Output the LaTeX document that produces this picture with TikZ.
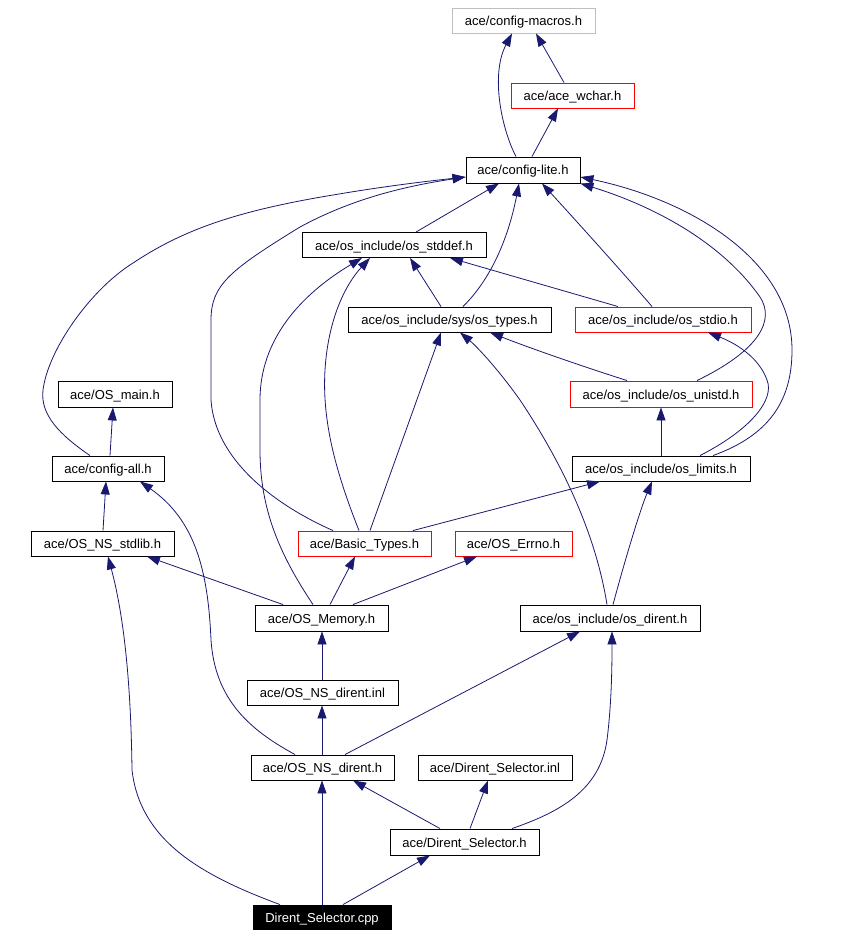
\documentclass[tikz,border=0pt]{standalone}
\usepackage{fontspec}
\setmainfont{Liberation Sans}
\usetikzlibrary{arrows.meta}
\definecolor{edgeblue}{RGB}{25,25,112}
\definecolor{grayframe}{RGB}{191,191,191}
\begin{document}
\begin{tikzpicture}[x=1pt,y=-1pt,
  box/.style={draw=black,line width=0.9pt,minimum height=25pt,inner sep=0pt,text height=13pt,text depth=3pt,font=\fontsize{13}{15}\selectfont,anchor=center},
  redbox/.style={box,draw=red},
  graybox/.style={box,draw=grayframe},
  rootbox/.style={box,fill=black,text=white},
  dep/.style={draw=edgeblue,line width=0.8pt,-{Triangle[length=13pt,width=9pt]}}]
\fill[white] (0,0) rectangle (859,936);
\useasboundingbox (0,0) rectangle (859,936);
% nodes
\node[graybox,minimum width=143pt] (macros) at (523.5,20.5) {ace/config-macros.h};
\node[redbox,minimum width=123pt] (wchar) at (572.5,95.5) {ace/ace\_wchar.h};
\node[box,minimum width=114pt,minimum height=26pt] (lite) at (523,170) {ace/config-lite.h};
\node[box,minimum width=184pt] (stddef) at (394,245) {ace/os\_include/os\_stddef.h};
\node[box,minimum width=203pt] (types) at (449.5,319.5) {ace/os\_include/sys/os\_types.h};
\node[redbox,minimum width=176pt] (stdio) at (663,319.5) {ace/os\_include/os\_stdio.h};
\node[redbox,minimum width=182pt,minimum height=26pt] (unistd) at (661,394) {ace/os\_include/os\_unistd.h};
\node[box,minimum width=178pt] (limits) at (661,468.5) {ace/os\_include/os\_limits.h};
\node[redbox,minimum width=117pt] (errno) at (513.5,543.5) {ace/OS\_Errno.h};
\node[box,minimum width=180pt,minimum height=26pt] (dirent) at (610,618) {ace/os\_include/os\_dirent.h};
\node[box,minimum width=114pt,minimum height=26pt] (osmain) at (115,394) {ace/OS\_main.h};
\node[box,minimum width=112pt] (cfgall) at (108,468.5) {ace/config-all.h};
\node[box,minimum width=143pt] (stdlib) at (102.5,543.5) {ace/OS\_NS\_stdlib.h};
\node[redbox,minimum width=133pt] (basic) at (364.5,543.5) {ace/Basic\_Types.h};
\node[box,minimum width=133pt,minimum height=26pt] (memory) at (321.5,618) {ace/OS\_Memory.h};
\node[box,minimum width=151pt] (nsinl) at (322.5,692.5) {ace/OS\_NS\_dirent.inl};
\node[box,minimum width=143pt] (nsh) at (322.5,767.5) {ace/OS\_NS\_dirent.h};
\node[box,minimum width=154pt] (dsinl) at (495,767.5) {ace/Dirent\_Selector.inl};
\node[box,minimum width=149pt,minimum height=26pt] (dsh) at (464.5,842) {ace/Dirent\_Selector.h};
\node[rootbox,minimum width=138pt,minimum height=24pt] (cpp) at (322,917) {Dirent\_Selector.cpp};
% edges
\draw[dep] (516,0 |- lite.north) .. controls (502,130) and (490,75) .. (512,0 |- macros.south);
\draw[dep] (532,0 |- lite.north) -- (558,0 |- wchar.south);
\draw[dep] (564,0 |- wchar.north) -- (536,0 |- macros.south);
\draw[dep] (416,0 |- stddef.north) -- (499,0 |- lite.south);
\draw[dep] (463,0 |- types.north) .. controls (490,280) and (508,240) .. (519,0 |- lite.south);
\draw[dep] (652,0 |- stdio.north) .. controls (625,275) and (580,225) .. (542,0 |- lite.south);
\draw[dep] (697,0 |- unistd.north) .. controls (760,350) and (775,320) .. (760,297) .. controls (720,240) and (650,205) .. (lite.south east);
\draw[dep] (713,0 |- limits.north) .. controls (770,435) and (792,400) .. (792,350) .. controls (792,260) and (690,200) .. (lite.east |- 0,177);
\draw[dep] (700,0 |- limits.north) .. controls (750,430) and (775,400) .. (767,380) .. controls (760,360) and (740,345) .. (708,0 |- stdio.south);
\draw[dep] (441,0 |- types.north) -- (410,0 |- stddef.south);
\draw[dep] (618,0 |- stdio.north) -- (450,0 |- stddef.south);
\draw[dep] (627,0 |- unistd.north) .. controls (600,372) and (540,352) .. (490,0 |- types.south);
\draw[dep] (limits.north) -- (unistd.south);
\draw[dep] (333,0 |- basic.north) .. controls (275,505) and (215,460) .. (211,400) -- (211,320) .. controls (211,285) and (230,270) .. (300,227) .. controls (350,200) and (400,187) .. (lite.west |- 0,177);
\draw[dep] (90,0 |- cfgall.north) .. controls (60,435) and (40,415) .. (43,390) .. controls (48,350) and (90,290) .. (133,263) .. controls (180,232) and (230,212) .. (333,195) .. controls (380,187) and (420,182) .. (lite.west |- 0,177);
\draw[dep] (359,0 |- basic.north) .. controls (335,470) and (322,420) .. (325,370) .. controls (328,320) and (345,285) .. (370,0 |- stddef.south);
\draw[dep] (370,0 |- basic.north) -- (441,0 |- types.south);
\draw[dep] (313,0 |- memory.north) .. controls (280,555) and (260,510) .. (260,450) -- (260,400) .. controls (260,340) and (300,295) .. (362,0 |- stddef.south);
\draw[dep] (330,0 |- memory.north) -- (355,0 |- basic.south);
\draw[dep] (283,0 |- memory.north) -- (147,0 |- stdlib.south);
\draw[dep] (353,0 |- memory.north) -- (477,0 |- errno.south);
\draw[dep] (110,0 |- cfgall.north) -- (113,0 |- osmain.south);
\draw[dep] (103,0 |- stdlib.north) -- (106,0 |- cfgall.south);
\draw[dep] (607,0 |- dirent.north) .. controls (595,530) and (560,460) .. (520,400) .. controls (495,365) and (475,345) .. (460,0 |- types.south);
\draw[dep] (613,0 |- dirent.north) .. controls (625,560) and (640,510) .. (652,0 |- limits.south);
\draw[dep] (413,0 |- basic.north) -- (600,0 |- limits.south);
\draw[dep] (322,0 |- nsinl.north) -- (322,0 |- memory.south);
\draw[dep] (322,0 |- nsh.north) -- (322,0 |- nsinl.south);
\draw[dep] (295,0 |- nsh.north) .. controls (250,730) and (215,700) .. (211,640) .. controls (208,570) and (195,520) .. (140,0 |- cfgall.south);
\draw[dep] (345,0 |- nsh.north) -- (580,0 |- dirent.south);
\draw[dep] (440,0 |- dsh.north) -- (353,0 |- nsh.south);
\draw[dep] (470,0 |- dsh.north) -- (488,0 |- dsinl.south);
\draw[dep] (512,0 |- dsh.north) .. controls (560,812) and (600,790) .. (607,740) .. controls (612,700) and (612,660) .. (612,0 |- dirent.south);
\draw[dep] (322,0 |- cpp.north) -- (322,0 |- nsh.south);
\draw[dep] (343,0 |- cpp.north) -- (430,0 |- dsh.south);
\draw[dep] (280,0 |- cpp.north) .. controls (200,875) and (140,840) .. (132,770) .. controls (131,690) and (125,620) .. (108,0 |- stdlib.south);
\end{tikzpicture}
\end{document}
